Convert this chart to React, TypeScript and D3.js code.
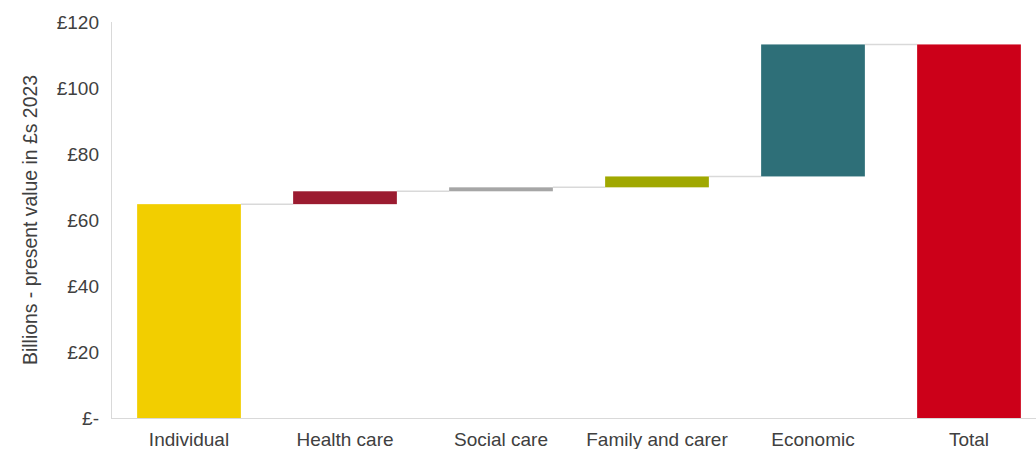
import React from "react";
import * as d3 from "d3";

const categories = ["Individual", "Health care", "Social care", "Family and carer", "Economic", "Total"];
const values = [64.8, 3.9, 1.2, 3.3, 40.0, 113.2];
const isTotal = [false, false, false, false, false, true];
const colors = ["#F2CE00", "#9B1B30", "#A6A6A6", "#A0A800", "#2E6F78", "#CC0019"];
const yTicks = [0, 20, 40, 60, 80, 100, 120];
const yTickLabels = ["£-", "£20", "£40", "£60", "£80", "£100", "£120"];
const yTitle = "Billions - present value in £s 2023";

export default function App() {
  const W = 1036, H = 449;
  const x = d3.scaleBand<string>().domain(categories).range([111, 1047]).paddingInner(0.335).paddingOuter(0.1675);
  const y = d3.scaleLinear().domain([0, 120]).range([418, 22]);

  let cum = 0;
  const bars = categories.map((c, i) => {
    let lo: number, hi: number;
    if (isTotal[i]) { lo = 0; hi = values[i]; }
    else { lo = cum; hi = cum + values[i]; cum = hi; }
    return { c, lo, hi, color: colors[i] };
  });

  const font = "'Liberation Sans', Arial, sans-serif";
  return (
    <svg width={W} height={H} style={{ position: "absolute", left: 0, top: 0 }}>
      <rect width={W} height={H} fill="#fff" />
      {bars.slice(0, -1).map((b, i) => {
        const nb = bars[i + 1];
        const lvl = nb.lo === 0 ? nb.hi : b.hi;
        return (
          <line key={"c" + i} x1={x(b.c)! + x.bandwidth()} x2={x(nb.c)!} y1={y(lvl)} y2={y(lvl)} stroke="#D9D9D9" strokeWidth={1.5} />
        );
      })}
      <line x1={111} x2={1036} y1={418.5} y2={418.5} stroke="#D9D9D9" strokeWidth={1} />
      <line x1={111.5} x2={111.5} y1={22} y2={418} stroke="#D9D9D9" strokeWidth={1} />
      {bars.map((b) => (
        <rect key={b.c} x={x(b.c)} width={x.bandwidth()} y={y(b.hi)} height={y(b.lo) - y(b.hi)} fill={b.color} />
      ))}
      {yTicks.map((t, i) => (
        <text key={t} x={99} y={y(t)} dy="0.35em" textAnchor="end" fontFamily={font} fontSize={19} fill="#404040">
          {yTickLabels[i]}
        </text>
      ))}
      {categories.map((c) => (
        <text key={c} x={x(c)! + x.bandwidth() / 2} y={446} textAnchor="middle" fontFamily={font} fontSize={19} fill="#404040">
          {c}
        </text>
      ))}
      <text transform={`translate(37,${y(60)}) rotate(-90)`} textAnchor="middle" fontFamily={font} fontSize={19.4} fill="#404040">
        {yTitle}
      </text>
    </svg>
  );
}
